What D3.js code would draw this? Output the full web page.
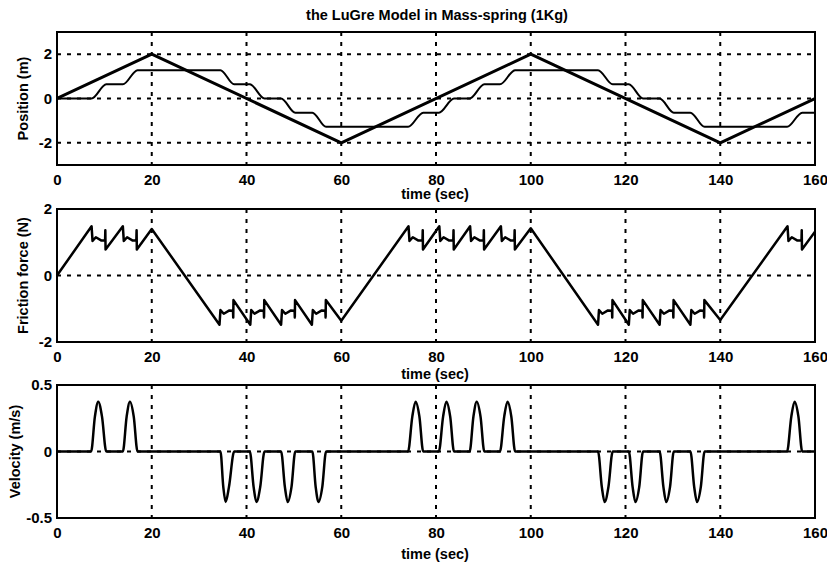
<!DOCTYPE html>
<html>
<head>
<meta charset="utf-8">
<script src="https://cdn.jsdelivr.net/npm/d3@7"></script>
<style>
  body { margin: 0; background: #fff; }
  svg { display: block; font-family: "Liberation Sans", Arial, sans-serif; font-weight: bold; }
</style>
</head>
<body>
<svg id="chart" width="827" height="563"></svg>
<script>
// tick labels
const timeTicks = [0, 20, 40, 60, 80, 100, 120, 140, 160];
const positionTicks = [-2, 0, 2];
const forceTicks = [-2, 0, 2];
const velocityTicks = [-0.5, 0, 0.5];

// reference position (triangle wave)
const refTime = [0, 20, 60, 100, 140, 160];
const refPos = [0, 2, -2, 2, -2, 0];

// mass position (staircase), corners of each step
const massTime = [0, 7.3, 10.4, 13.9, 17.0, 34.5, 37.4, 40.7, 43.8, 47.3, 50.3, 53.9, 56.8,
  74.1, 77.3, 80.6, 83.8, 87.1, 90.2, 93.5, 96.7, 114.2, 117.3, 120.7, 123.7, 127.2, 130.2,
  133.7, 136.7, 154.1, 157.3, 160];
const massPos = [0, 0, 0.64, 0.64, 1.28, 1.28, 0.64, 0.64, 0, 0, -0.64, -0.64, -1.28,
  -1.28, -0.64, -0.64, 0, 0, 0.64, 0.64, 1.28, 1.28, 0.64, 0.64, 0, 0, -0.64,
  -0.64, -1.28, -1.28, -0.64, -0.64];

// friction force [time, N]
const forcePoints = [
  [0, 0],
  [7.3, 1.48], [7.5, 1.04], [8.2, 1.15], [9.4, 1.05], [10.15, 1.06], [10.2, 1.36], [10.25, 0.78],
  [13.9, 1.48], [14.1, 1.04], [14.8, 1.15], [16.0, 1.05], [16.75, 1.06], [16.8, 1.36], [16.85, 0.78],
  [20, 1.40],
  [34.3, -1.48], [34.5, -1.04], [35.2, -1.15], [36.4, -1.05], [37.15, -1.06], [37.2, -1.26], [37.25, -0.74],
  [40.8, -1.48], [41.0, -1.04], [41.7, -1.15], [42.9, -1.05], [43.65, -1.06], [43.7, -1.26], [43.75, -0.74],
  [47.3, -1.48], [47.5, -1.04], [48.2, -1.15], [49.4, -1.05], [50.15, -1.06], [50.2, -1.26], [50.25, -0.74],
  [53.8, -1.48], [54.0, -1.04], [54.7, -1.15], [55.9, -1.05], [56.65, -1.06], [56.7, -1.26], [56.75, -0.74],
  [60, -1.36],
  [74.2, 1.48], [74.4, 1.04], [75.1, 1.15], [76.3, 1.05], [77.15, 1.06], [77.2, 1.36], [77.25, 0.78],
  [80.7, 1.48], [80.9, 1.04], [81.6, 1.15], [82.8, 1.05], [83.65, 1.06], [83.7, 1.36], [83.75, 0.78],
  [87.2, 1.48], [87.4, 1.04], [88.1, 1.15], [89.3, 1.05], [90.05, 1.06], [90.1, 1.36], [90.15, 0.78],
  [93.7, 1.48], [93.9, 1.04], [94.6, 1.15], [95.8, 1.05], [96.55, 1.06], [96.6, 1.36], [96.65, 0.78],
  [100, 1.42],
  [114.2, -1.48], [114.4, -1.04], [115.1, -1.15], [116.3, -1.05], [117.15, -1.06], [117.2, -1.26], [117.25, -0.74],
  [120.7, -1.48], [120.9, -1.04], [121.6, -1.15], [122.8, -1.05], [123.55, -1.06], [123.6, -1.26], [123.65, -0.74],
  [127.2, -1.48], [127.4, -1.04], [128.1, -1.15], [129.3, -1.05], [130.05, -1.06], [130.1, -1.26], [130.15, -0.74],
  [133.7, -1.48], [133.9, -1.04], [134.6, -1.15], [135.8, -1.05], [136.55, -1.06], [136.6, -1.26], [136.65, -0.74],
  [140, -1.34],
  [154.2, 1.48], [154.4, 1.04], [155.1, 1.15], [156.3, 1.05], [157.15, 1.06], [157.2, 1.36], [157.25, 0.78],
  [160, 1.32]
];

// velocity pulses: start, 70% on the way up, peak, 70% on the way down, end; peak value
const pulseStart = [7.2, 13.9, 34.5, 40.7, 47.3, 53.9, 74.1, 80.6, 87.1, 93.5, 114.2, 120.7, 127.2, 133.7, 154.1];
const pulseUp = [8.0, 14.7, 35.1, 41.5, 48.1, 54.6, 75.0, 81.5, 87.9, 94.4, 115.0, 121.5, 128.0, 134.5, 155.0];
const pulsePeak = [8.7, 15.4, 35.6, 42.1, 48.7, 55.2, 75.7, 82.2, 88.6, 95.1, 115.6, 122.1, 128.6, 135.1, 155.7];
const pulseDown = [9.5, 16.2, 36.3, 42.9, 49.5, 56.0, 76.5, 83.0, 89.4, 95.9, 116.4, 122.9, 129.4, 135.9, 156.5];
const pulseEnd = [10.4, 17.0, 37.4, 43.8, 50.3, 56.8, 77.3, 83.8, 90.2, 96.7, 117.3, 123.7, 130.2, 136.7, 157.3];
const pulseAmp = [0.375, 0.375, -0.38, -0.38, -0.38, -0.38, 0.375, 0.375, 0.375, 0.375, -0.38, -0.38, -0.38, -0.38, 0.375];
const pulseShoulder = 0.7;

const svg = d3.select("#chart");
const left = 57, right = 815;

const x = d3.scaleLinear().domain([0, 160]).range([left, right]);

const velocityPoints = [[0, 0]];
pulseStart.forEach((s, i) => {
  const a = pulseAmp[i];
  velocityPoints.push(
    [s, 0],
    [pulseUp[i], a * pulseShoulder],
    [pulsePeak[i], a],
    [pulseDown[i], a * pulseShoulder],
    [pulseEnd[i], 0]
  );
});
velocityPoints.push([160, 0]);

const panels = [
  {
    top: 32, bottom: 165, domain: [-3, 3], ticks: positionTicks,
    label: "Position (m)", labelX: 28, xlabelY: 194,
    series: [
      { points: refTime.map((t, i) => [t, refPos[i]]), width: 3, curve: d3.curveLinear },
      { points: massTime.map((t, i) => [t, massPos[i]]), width: 2, curve: d3.curveMonotoneX }
    ]
  },
  {
    top: 209, bottom: 342, domain: [-2, 2], ticks: forceTicks,
    label: "Friction force (N)", labelX: 28, xlabelY: 374,
    series: [{ points: forcePoints, width: 2.5, curve: d3.curveLinear }]
  },
  {
    top: 385, bottom: 518, domain: [-0.5, 0.5], ticks: velocityTicks,
    label: "Velocity (m/s)", labelX: 20, xlabelY: 554,
    series: [{ points: velocityPoints, width: 2.5, curve: d3.curveMonotoneX }]
  }
];

panels.forEach((p, k) => {
  const y = d3.scaleLinear().domain(p.domain).range([p.bottom, p.top]);
  const g = svg.append("g");

  g.append("clipPath").attr("id", "clip" + k)
    .append("rect")
    .attr("x", left).attr("y", p.top)
    .attr("width", right - left).attr("height", p.bottom - p.top);

  // dotted grid
  const grid = g.append("g")
    .attr("stroke", "#000")
    .attr("stroke-width", 2)
    .attr("stroke-dasharray", "4,6");

  grid.selectAll(".vgrid")
    .data(timeTicks.filter((t) => t > 0 && t < 160))
    .enter()
    .append("line")
    .attr("x1", (d) => x(d)).attr("x2", (d) => x(d))
    .attr("y1", p.top).attr("y2", p.bottom);

  grid.selectAll(".hgrid")
    .data(p.ticks.filter((v) => v > p.domain[0] && v < p.domain[1]))
    .enter()
    .append("line")
    .attr("x1", left).attr("x2", right)
    .attr("y1", (d) => y(d)).attr("y2", (d) => y(d));

  // data lines
  p.series.forEach((s) => {
    const line = d3.line()
      .x((d) => x(d[0]))
      .y((d) => y(d[1]))
      .curve(s.curve);
    g.append("path")
      .attr("clip-path", `url(#clip${k})`)
      .attr("d", line(s.points))
      .attr("fill", "none")
      .attr("stroke", "#000")
      .attr("stroke-width", s.width)
      .attr("stroke-linejoin", "round");
  });

  // box
  g.append("rect")
    .attr("x", left).attr("y", p.top)
    .attr("width", right - left).attr("height", p.bottom - p.top)
    .attr("fill", "none")
    .attr("stroke", "#000")
    .attr("stroke-width", 2);

  // axes
  const xAxis = g.append("g")
    .attr("transform", `translate(0,${p.bottom})`)
    .call(d3.axisBottom(x).tickValues(timeTicks).tickSize(0).tickPadding(9));
  const yAxis = g.append("g")
    .attr("transform", `translate(${left},0)`)
    .call(d3.axisLeft(y).tickValues(p.ticks).tickSize(0).tickPadding(5)
      .tickFormat((d) => (d === 0 ? "0" : String(d))));

  [xAxis, yAxis].forEach((a) => {
    a.select(".domain").remove();
    a.selectAll("text")
      .attr("fill", "#000")
      .style("font-family", '"Liberation Sans", Arial, sans-serif')
      .style("font-weight", "bold")
      .style("font-size", "15px");
  });

  g.append("text")
    .attr("x", 435).attr("y", p.xlabelY)
    .attr("dy", "0.35em")
    .attr("text-anchor", "middle")
    .style("font-size", "14.5px")
    .text("time (sec)");

  g.append("text")
    .attr("transform", `translate(${p.labelX},${(p.top + p.bottom) / 2}) rotate(-90)`)
    .attr("text-anchor", "middle")
    .style("font-size", "14.5px")
    .text(p.label);
});

svg.append("text")
  .attr("x", 437).attr("y", 15)
  .attr("dy", "0.35em")
  .attr("text-anchor", "middle")
  .style("font-size", "14.5px")
  .text("the LuGre Model in Mass-spring (1Kg)");
</script>
</body>
</html>
